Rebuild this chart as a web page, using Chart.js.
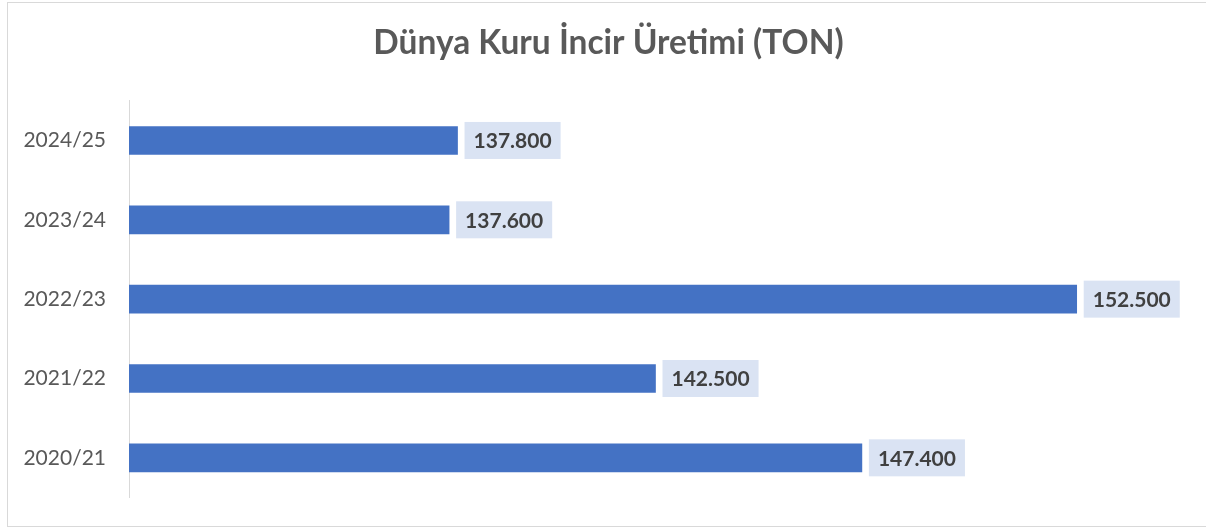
<!DOCTYPE html>
<html>
<head>
<meta charset="utf-8">
<script src="https://cdn.jsdelivr.net/npm/chart.js@4/dist/chart.umd.min.js"></script>
<style>
html,body{margin:0;padding:0;background:#fff;}
#wrap{position:relative;width:1206px;height:529px;}
</style>
</head>
<body>
<div id="wrap"><canvas id="c" width="1206" height="529"></canvas></div>
<script>
const titleText = 'Dünya Kuru İncir Üretimi (TON)';
const categories = ['2020/21', '2021/22', '2022/23', '2023/24', '2024/25'];
const production = [147400, 142500, 152500, 137600, 137800];
const axisMin = 130000;
const axisMax = 155000;

function fmt(v){ return String(v).replace(/\B(?=(\d{3})+(?!\d))/g, '.'); }

const frame = {
  id: 'frame',
  afterLayout(chart){
    // let the category labels extend into the left padding without clipping
    chart.scales.y.left = 0;
  },
  beforeDraw(chart){
    const ctx = chart.ctx;
    ctx.save();
    ctx.fillStyle = '#ffffff';
    ctx.fillRect(0,0,chart.width,chart.height);
    ctx.strokeStyle = '#D9D9D9';
    ctx.lineWidth = 1;
    ctx.strokeRect(7.5, 2.5, 1205, 524);
    ctx.restore();
  }
};

const valueLabels = {
  id: 'valueLabels',
  afterDatasetsDraw(chart){
    const ctx = chart.ctx;
    const meta = chart.getDatasetMeta(0);
    ctx.save();
    ctx.font = 'bold 21px Lato';
    ctx.textBaseline = 'middle';
    ctx.textAlign = 'left';
    meta.data.forEach((bar, i) => {
      const txt = fmt(chart.data.datasets[0].data[i]);
      const w = ctx.measureText(txt).width;
      const bx = bar.x + 7;
      const bw = w + 18;
      const bh = 37;
      const by = bar.y - bh/2;
      ctx.fillStyle = '#DAE3F3';
      ctx.fillRect(bx, by, bw, bh);
      ctx.fillStyle = '#404040';
      ctx.fillText(txt, bx + 9, bar.y + 1);
    });
    ctx.restore();
  }
};

new Chart(document.getElementById('c'), {
  type: 'bar',
  data: {
    labels: categories,
    datasets: [{
      data: production,
      backgroundColor: '#4472C4',
      borderWidth: 0,
      barThickness: 28
    }]
  },
  options: {
    indexAxis: 'y',
    responsive: false,
    animation: false,
    layout: { padding: { left: 35, right: 24, top: 0, bottom: 31.5 } },
    plugins: {
      legend: { display: false },
      tooltip: { enabled: false },
      title: {
        display: true,
        text: titleText,
        color: '#595959',
        font: { family: 'Lato', size: 33.5, weight: 'bold' },
        padding: { top: 23, bottom: 37.6 }
      }
    },
    scales: {
      x: {
        display: false,
        min: axisMin,
        max: axisMax
      },
      y: {
        reverse: true,
        grid: { display: false, drawTicks: false },
        border: { display: true, color: '#D9D9D9', width: 1 },
        ticks: {
          color: '#595959',
          padding: 23,
          font: { family: 'Lato', size: 21 }
        },
        afterFit(scale){
          scale.width = 94;
          scale.paddingTop = 0;
          scale.paddingBottom = 0;
        }
      }
    }
  },
  plugins: [frame, valueLabels]
});
</script>
</body>
</html>
